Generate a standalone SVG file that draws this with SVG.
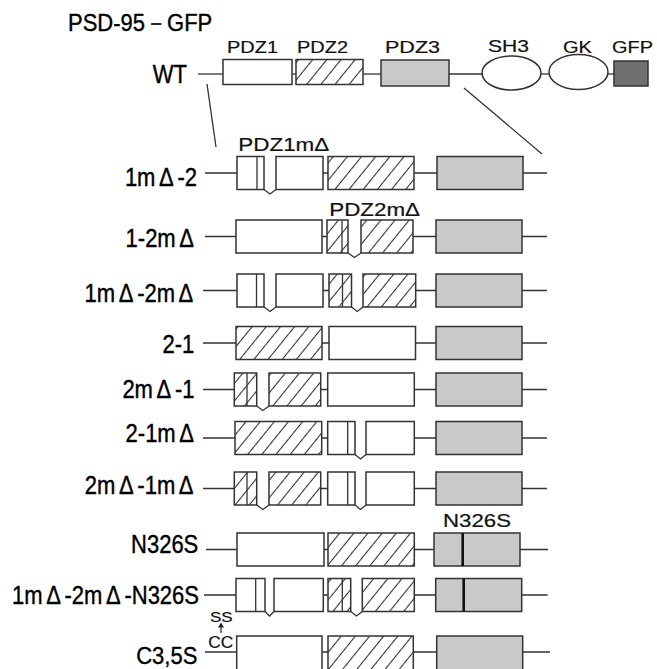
<svg xmlns="http://www.w3.org/2000/svg" width="657" height="669" viewBox="0 0 657 669">
<style>
.ln{stroke:#333;stroke-width:1.3;fill:none}
.bx{stroke:#333;stroke-width:1.5}
.w{fill:#fff}
.h{fill:url(#hatch)}
.g{fill:#c9c9c9}
.k{fill:#6f6f6f}
.thick{stroke:#111;stroke-width:2.6}
.lbl{font-family:"Liberation Sans",Arial,sans-serif;font-size:22px;fill:#000;stroke:#000;stroke-width:0.35}
.dom{font-family:"Liberation Sans",Arial,sans-serif;font-size:17px;fill:#111;stroke:#111;stroke-width:0.2}
.sm{font-family:"Liberation Sans",Arial,sans-serif;fill:#111;stroke:#111;stroke-width:0.2}
</style>
<defs>
<pattern id="hatch" patternUnits="userSpaceOnUse" width="11" height="11" patternTransform="rotate(39)">
<rect width="11" height="11" fill="#fff"/>
<line x1="5.5" y1="0" x2="5.5" y2="11" stroke="#333" stroke-width="1.1"/>
</pattern>
</defs>
<rect width="657" height="669" fill="#fff"/>

<text class="lbl" transform="translate(68,31) scale(1,1.08)" font-size="23.5">PSD-95－GFP</text>

<g id="connectors">
<line class="ln" x1="198" y1="74" x2="223" y2="74"/>
<line class="ln" x1="292" y1="74" x2="296" y2="74"/>
<line class="ln" x1="363" y1="74" x2="381" y2="74"/>
<line class="ln" x1="449" y1="74" x2="482" y2="74"/>
<line class="ln" x1="541" y1="74" x2="549" y2="74"/>
<line class="ln" x1="608" y1="74" x2="614" y2="74"/>
<line class="ln" x1="207" y1="84" x2="216" y2="147"/>
<line class="ln" x1="464" y1="88" x2="542" y2="154"/>
<path class="ln" d="M205 173H237M323 173H328M414 173H437M523 173H547"/>
<path class="ln" d="M205 236.5H236M322 236.5H327M413 236.5H436M522 236.5H547"/>
<path class="ln" d="M203 290.5H237M323 290.5H329M415.7 290.5H436M522 290.5H547"/>
<path class="ln" d="M203 343H236M322 343H329M415.5 343H436M522 343H547"/>
<path class="ln" d="M203 389.5H234.3M320.7 389.5H327.7M414.3 389.5H436M522 389.5H547"/>
<path class="ln" d="M203 438H235M321.7 438H327.7M414.3 438H436M522 438H547"/>
<path class="ln" d="M203 488.5H234.3M320.7 488.5H327.7M414.3 488.5H436M522 488.5H547"/>
<path class="ln" d="M206 549.5H237M324 549.5H328M414.3 549.5H434M520 549.5H548"/>
<path class="ln" d="M204 595H236M323.3 595H328M414.3 595H435.7M521.7 595H547.7"/>
<path class="ln" d="M205 652H236.7M322 652H328M413.3 652H436.7M522.7 652H550"/>
</g>

<g id="wt">
<text class="lbl" transform="translate(187,83) scale(1,1.13)" text-anchor="end">WT</text>
<g id="wt-pdz1"><rect class="bx w" x="223" y="59.5" width="69" height="25"/><text class="dom" x="227" y="53" textLength="51" lengthAdjust="spacingAndGlyphs">PDZ1</text></g>
<g id="wt-pdz2"><rect class="bx h" x="296" y="59.5" width="67" height="25"/><text class="dom" x="297" y="53" textLength="51" lengthAdjust="spacingAndGlyphs">PDZ2</text></g>
<g id="wt-pdz3"><rect class="bx g" x="381" y="60" width="68" height="26"/><text class="dom" x="385" y="53" textLength="55" lengthAdjust="spacingAndGlyphs">PDZ3</text></g>
<g id="wt-sh3"><ellipse class="bx w" cx="511.5" cy="73" rx="29.5" ry="17"/><text class="dom" x="488" y="52" textLength="41" lengthAdjust="spacingAndGlyphs">SH3</text></g>
<g id="wt-gk"><ellipse class="bx w" cx="578.5" cy="72" rx="29.5" ry="17.5"/><text class="dom" x="563" y="52.5" textLength="29" lengthAdjust="spacingAndGlyphs">GK</text></g>
<g id="wt-gfp"><rect class="bx k" x="614" y="61" width="34" height="25"/><text class="dom" x="612" y="53" textLength="41" lengthAdjust="spacingAndGlyphs">GFP</text></g>
</g>

<g id="row1">
<text class="lbl" transform="translate(197,186) scale(1,1.13)" text-anchor="end">1m<tspan dx="3.6">Δ</tspan><tspan dx="3.7">-2</tspan></text>
<text class="sm" x="238.3" y="150.7" font-size="19" textLength="91" lengthAdjust="spacingAndGlyphs">PDZ1mΔ</text>
<rect class="bx w" x="237" y="156.5" width="27" height="33"/>
<line class="ln" x1="257" y1="156.5" x2="257" y2="189.5"/>
<rect class="bx w" x="276" y="156.5" width="47" height="33"/>
<polyline class="ln" points="264,189.5 270,194 276,189.5"/>
<rect class="bx h" x="328" y="156.5" width="86" height="33"/>
<rect class="bx g" x="437" y="156.5" width="86" height="33"/>
</g>

<g id="row2">
<text class="lbl" transform="translate(194,246.5) scale(1,1.13)" text-anchor="end">1-2m<tspan dx="3.6">Δ</tspan></text>
<text class="sm" x="329.3" y="216" font-size="19" textLength="90.7" lengthAdjust="spacingAndGlyphs">PDZ2mΔ</text>
<rect class="bx w" x="236" y="220" width="86" height="33"/>
<rect class="bx h" x="327" y="220" width="21" height="33"/>
<line class="ln" x1="342" y1="220" x2="342" y2="253"/>
<rect class="bx h" x="361" y="220" width="52" height="33"/>
<polyline class="ln" points="348,253 354.5,257.5 361,253"/>
<rect class="bx g" x="436" y="220" width="86" height="33"/>
</g>

<g id="row3">
<text class="lbl" transform="translate(193.3,302) scale(1,1.13)" text-anchor="end">1m<tspan dx="3.6">Δ</tspan><tspan dx="3.7">-2m</tspan><tspan dx="3.6">Δ</tspan></text>
<rect class="bx w" x="237" y="274" width="27" height="33"/>
<line class="ln" x1="256.5" y1="274" x2="256.5" y2="307"/>
<rect class="bx w" x="276" y="274" width="47" height="33"/>
<polyline class="ln" points="264,307 270,311.5 276,307"/>
<rect class="bx h" x="329" y="274" width="22.5" height="33"/>
<line class="ln" x1="342.5" y1="274" x2="342.5" y2="307"/>
<rect class="bx h" x="363" y="274" width="52.7" height="33"/>
<polyline class="ln" points="351.5,307 357.2,311.5 363,307"/>
<rect class="bx g" x="436" y="274" width="86" height="33"/>
</g>

<g id="row4">
<text class="lbl" transform="translate(194.3,353) scale(1,1.13)" text-anchor="end">2-1</text>
<rect class="bx h" x="236" y="326.5" width="86" height="33"/>
<rect class="bx w" x="329" y="326.5" width="86.5" height="33"/>
<rect class="bx g" x="436" y="326.5" width="86" height="33"/>
</g>

<g id="row5">
<text class="lbl" transform="translate(194.5,398) scale(1,1.13)" text-anchor="end">2m<tspan dx="3.6">Δ</tspan><tspan dx="3.7">-1</tspan></text>
<rect class="bx h" x="234.3" y="373" width="22.4" height="33"/>
<line class="ln" x1="247" y1="373" x2="247" y2="406"/>
<rect class="bx h" x="269" y="373" width="51.7" height="33"/>
<polyline class="ln" points="256.7,406 262.8,410.5 269,406"/>
<rect class="bx w" x="327.7" y="373" width="86.6" height="33"/>
<rect class="bx g" x="436" y="373" width="86" height="33"/>
</g>

<g id="row6">
<text class="lbl" transform="translate(194,441.5) scale(1,1.13)" text-anchor="end">2-1m<tspan dx="3.6">Δ</tspan></text>
<rect class="bx h" x="235" y="421.5" width="86.7" height="33"/>
<rect class="bx w" x="327.7" y="421.5" width="27.3" height="33"/>
<line class="ln" x1="347.7" y1="421.5" x2="347.7" y2="454.5"/>
<rect class="bx w" x="366" y="421.5" width="48.3" height="33"/>
<polyline class="ln" points="355,454.5 360.5,459 366,454.5"/>
<rect class="bx g" x="436" y="421.5" width="86" height="33"/>
</g>

<g id="row7">
<text class="lbl" transform="translate(193.5,494) scale(1,1.13)" text-anchor="end">2m<tspan dx="3.6">Δ</tspan><tspan dx="3.7">-1m</tspan><tspan dx="3.6">Δ</tspan></text>
<rect class="bx h" x="234.3" y="472" width="22.4" height="33"/>
<line class="ln" x1="247" y1="472" x2="247" y2="505"/>
<rect class="bx h" x="269" y="472" width="51.7" height="33"/>
<polyline class="ln" points="256.7,505 262.8,509.5 269,505"/>
<rect class="bx w" x="327.7" y="472" width="27.3" height="33"/>
<line class="ln" x1="347.7" y1="472" x2="347.7" y2="505"/>
<rect class="bx w" x="366" y="472" width="48.3" height="33"/>
<polyline class="ln" points="355,505 360.5,509.5 366,505"/>
<rect class="bx g" x="436" y="472" width="86" height="33"/>
</g>

<g id="row8">
<text class="lbl" transform="translate(198.3,553) scale(1,1.13)" text-anchor="end">N326S</text>
<text class="sm" x="443" y="527" font-size="19" textLength="68" lengthAdjust="spacingAndGlyphs">N326S</text>
<rect class="bx w" x="237" y="533" width="87" height="33"/>
<rect class="bx h" x="328" y="533" width="86.3" height="33"/>
<rect class="bx g" x="434" y="533" width="86" height="33"/>
<line class="thick" x1="462.7" y1="533" x2="462.7" y2="566"/>
</g>

<g id="row9">
<text class="lbl" transform="translate(199,604) scale(1,1.13)" text-anchor="end">1m<tspan dx="3.6">Δ</tspan><tspan dx="3.7">-2m</tspan><tspan dx="3.6">Δ</tspan><tspan dx="3.7">-N326S</tspan></text>
<rect class="bx w" x="236" y="578.5" width="29" height="33"/>
<line class="ln" x1="255.7" y1="578.5" x2="255.7" y2="611.5"/>
<rect class="bx w" x="274" y="578.5" width="49.3" height="33"/>
<polyline class="ln" points="265,611.5 269.5,616 274,611.5"/>
<rect class="bx h" x="328" y="578.5" width="22.7" height="33"/>
<line class="ln" x1="342.3" y1="578.5" x2="342.3" y2="611.5"/>
<rect class="bx h" x="362.3" y="578.5" width="52" height="33"/>
<polyline class="ln" points="350.7,611.5 356.5,616 362.3,611.5"/>
<rect class="bx g" x="435.7" y="578.5" width="86" height="33"/>
<line class="thick" x1="463.7" y1="578.5" x2="463.7" y2="611.5"/>
</g>

<g id="row10">
<text class="lbl" transform="translate(197.3,664) scale(1,1.1)" text-anchor="end">C3,5S</text>
<text class="sm" x="210" y="622" font-size="15" textLength="22.7" lengthAdjust="spacingAndGlyphs">SS</text>
<line class="ln" x1="221" y1="633" x2="221" y2="626"/>
<polygon points="218,627.5 221,622.5 224,627.5" fill="#222"/>
<text class="sm" x="208.3" y="648.3" font-size="16" textLength="25" lengthAdjust="spacingAndGlyphs">CC</text>
<rect class="bx w" x="236.7" y="636" width="85.3" height="34"/>
<rect class="bx h" x="328" y="636" width="85.3" height="34"/>
<rect class="bx g" x="436.7" y="636" width="86" height="34"/>
</g>
</svg>
